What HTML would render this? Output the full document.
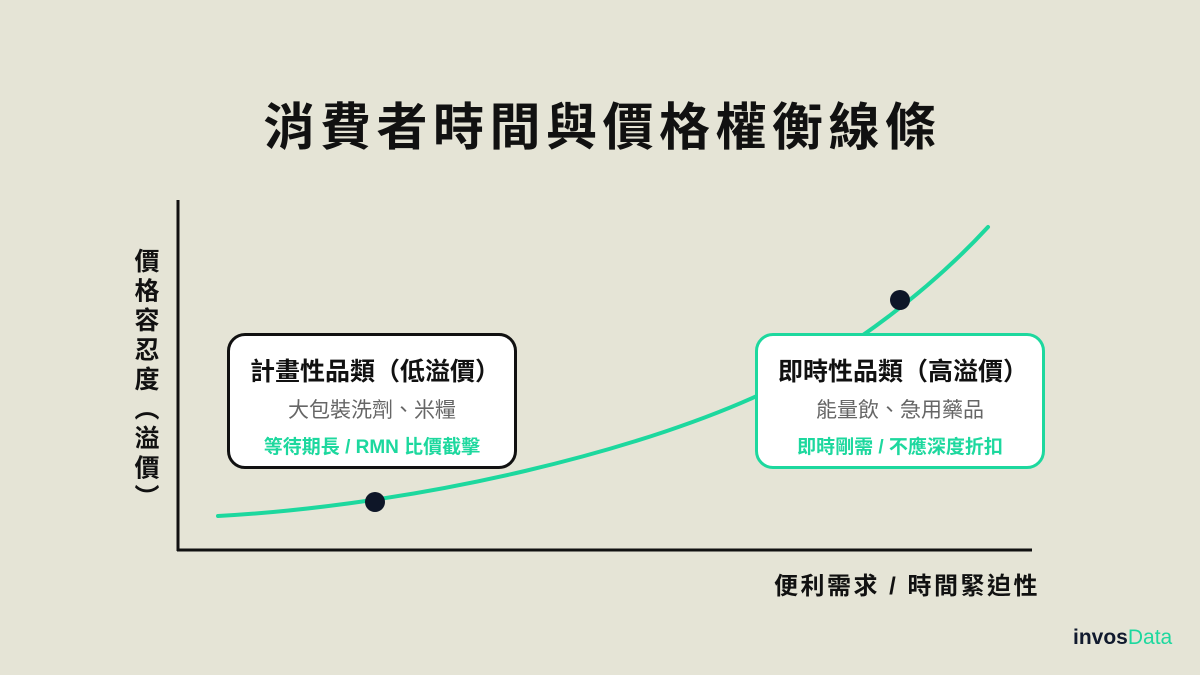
<!DOCTYPE html>
<html><head><meta charset="utf-8"><style>
body{margin:0;width:1200px;height:675px;background:#e5e4d6;position:relative;overflow:hidden;font-family:"Liberation Sans","Noto Sans CJK TC",sans-serif;color:#111;}
.t{position:absolute;left:0;width:1200px;text-align:center;top:86px;font-size:51px;font-weight:bold;letter-spacing:5.5px;text-indent:5px;}
.box{position:absolute;top:333px;width:284px;height:130px;background:#fff;border:3px solid #111;border-radius:18px;text-align:center;}
.box .h{margin-top:16px;font-size:25px;font-weight:bold;letter-spacing:0px;padding-left:6px;}
.box .s{margin-top:6px;font-size:21px;color:#666;}
.box .g{margin-top:8px;font-size:19px;color:#1dd89e;font-weight:bold;}
.yl{position:absolute;left:130px;top:248px;width:30px;font-size:25px;font-weight:bold;line-height:30px;letter-spacing:4.5px;writing-mode:vertical-rl;}
.xl{position:absolute;right:160px;top:566px;font-size:24px;font-weight:bold;letter-spacing:2.5px;}
.logo{position:absolute;left:1073px;top:626px;font-size:21px;font-weight:bold;}
</style></head><body>
<div class="t">消費者時間與價格權衡線條</div>
<svg width="1200" height="675" style="position:absolute;left:0;top:0">
<line x1="178" y1="200" x2="178" y2="551" stroke="#111" stroke-width="3"/>
<line x1="177" y1="550" x2="1032" y2="550" stroke="#111" stroke-width="3"/>
<path fill="none" stroke="#1dd89e" stroke-width="4" stroke-linecap="round" d="M218,516 C420,505 650,450 780,385 C850,350 930,290 988,227"/>
<circle cx="375" cy="502" r="10" fill="#0e1628"/>
<circle cx="900" cy="300" r="10" fill="#0e1628"/>
</svg>
<div class="box" style="left:227px"><div class="h">計畫性品類（低溢價）</div><div class="s">大包裝洗劑、米糧</div><div class="g">等待期長 / RMN 比價截擊</div></div>
<div class="box" style="left:755px;border-color:#1dd89e"><div class="h">即時性品類（高溢價）</div><div class="s">能量飲、急用藥品</div><div class="g">即時剛需 / 不應深度折扣</div></div>
<div class="yl">價格容忍度（溢價）</div>
<div class="xl">便利需求 / 時間緊迫性</div>
<div class="logo"><span style="color:#111a2e">invos</span><span style="color:#1dd89e;font-weight:normal">Data</span></div>
</body></html>
